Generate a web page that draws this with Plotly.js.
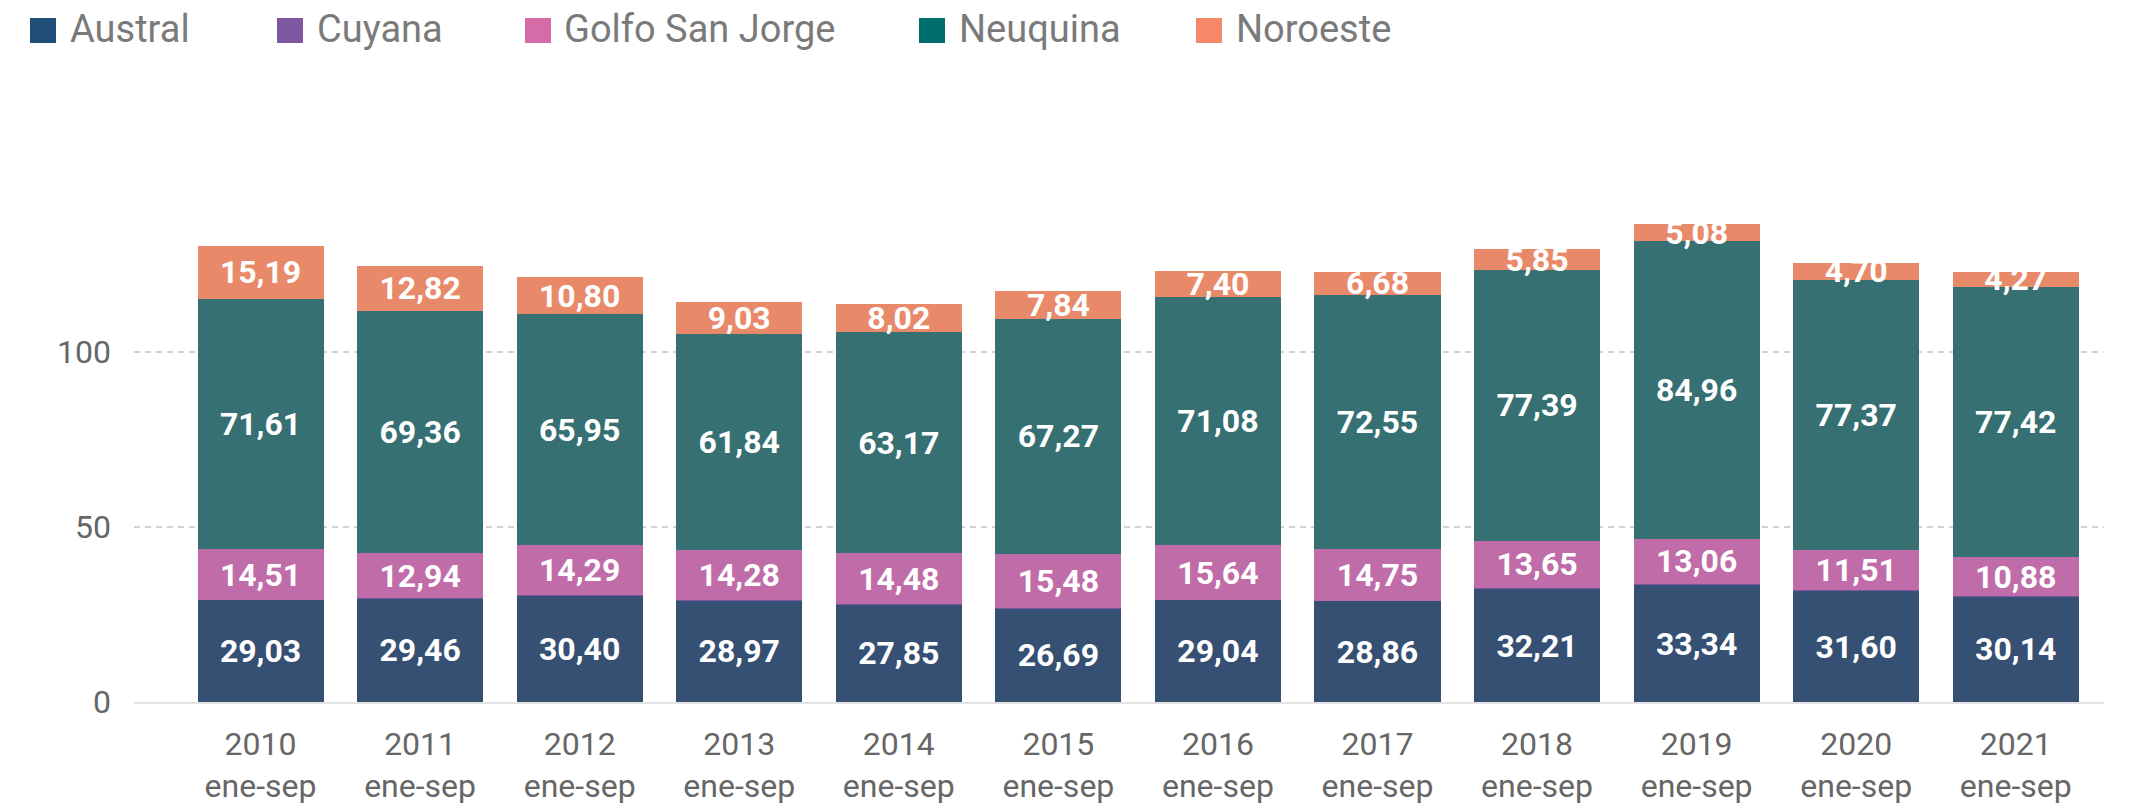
<!DOCTYPE html>
<html>
<head>
<meta charset="utf-8">
<script src="https://cdn.plot.ly/plotly-3.0.1.min.js"></script>
<style>
  html, body { margin: 0; padding: 0; background: #ffffff; }
  #chart { width: 2132px; height: 808px; }
</style>
</head>
<body>
<div id="chart"></div>
<script>
// ---- Data ----
const years = ["2010", "2011", "2012", "2013", "2014", "2015", "2016", "2017", "2018", "2019", "2020", "2021"];
const period = "ene-sep";
const seriesNames = ["Austral", "Cuyana", "Golfo San Jorge", "Neuquina", "Noroeste"];
const austral  = [29.03, 29.46, 30.40, 28.97, 27.85, 26.69, 29.04, 28.86, 32.21, 33.34, 31.60, 30.14];
const cuyana   = [0.15, 0.15, 0.15, 0.15, 0.15, 0.15, 0.15, 0.15, 0.3, 0.3, 0.3, 0.3];
const golfo    = [14.51, 12.94, 14.29, 14.28, 14.48, 15.48, 15.64, 14.75, 13.65, 13.06, 11.51, 10.88];
const neuquina = [71.61, 69.36, 65.95, 61.84, 63.17, 67.27, 71.08, 72.55, 77.39, 84.96, 77.37, 77.42];
const noroeste = [15.19, 12.82, 10.80, 9.03, 8.02, 7.84, 7.40, 6.68, 5.85, 5.08, 4.70, 4.27];
const yTicks = [0, 50, 100];

// ---- Style ----
const barColors = ["#355072", "#7e57a3", "#c06ca9", "#367073", "#e88a69"];
const legendColors = ["#1f4e79", "#7e57a3", "#d56ca8", "#006e6e", "#f6886a"];
const values = [austral, cuyana, golfo, neuquina, noroeste];
const showLabels = [true, false, true, true, true];

const W = 2132, H = 808;
const mL = 134, mR = 28, mT = 142, mB = 106;
const plotW = W - mL - mR, plotH = H - mT - mB;
const px2paperX = px => (px - mL) / plotW;
const px2paperY = py => (H - mB - py) / plotH;

const traces = seriesNames.map((name, i) => ({
  type: "bar",
  name: name,
  x: years,
  y: values[i],
  marker: { color: barColors[i], line: { width: 0 } },
  texttemplate: showLabels[i] ? "%{y:.2f}" : "",
  textposition: showLabels[i] ? "inside" : "none",
  insidetextanchor: "middle",
  constraintext: "none",
  textfont: { family: "Roboto, sans-serif", size: 32, color: "#ffffff", weight: 700 },
  hoverinfo: "name+y",
  showlegend: false
}));

// Legend drawn as layout shapes + annotations
const legendSquareX = [30, 277, 525, 919, 1196];
const legendTextX = [68, 315, 562, 957, 1234];
const shapes = [];
const annotations = [];
seriesNames.forEach((name, i) => {
  shapes.push({
    type: "rect", xref: "paper", yref: "paper",
    x0: px2paperX(legendSquareX[i]), x1: px2paperX(legendSquareX[i] + 26),
    y0: px2paperY(43), y1: px2paperY(18),
    fillcolor: legendColors[i], line: { width: 0 }
  });
  annotations.push({
    xref: "paper", yref: "paper",
    x: px2paperX(legendTextX[i]), y: px2paperY(29),
    xanchor: "left", yanchor: "middle",
    text: name, showarrow: false,
    font: { family: "Roboto, sans-serif", size: 38, color: "#7a7a7a" }
  });
});

const layout = {
  width: W, height: H,
  margin: { l: mL, r: mR, t: mT, b: mB, pad: 0 },
  paper_bgcolor: "#ffffff",
  plot_bgcolor: "#ffffff",
  barmode: "stack",
  bargap: 0.21,
  separators: ",.",
  showlegend: false,
  font: { family: "Roboto, sans-serif", color: "#666666" },
  xaxis: {
    type: "category",
    range: [-0.793, 11.553],
    tickvals: years,
    ticktext: years.map(y => y + "<br>" + period),
    tickfont: { family: "Roboto, sans-serif", size: 32, color: "#666666" },
    showgrid: false,
    zeroline: false,
    showline: true,
    linecolor: "#e3e3e3",
    linewidth: 2,
    ticks: "",
    ticklabelstandoff: 13
  },
  yaxis: {
    range: [0, 160.1],
    tickvals: yTicks,
    ticktext: yTicks.map(String),
    tickfont: { family: "Roboto, sans-serif", size: 32, color: "#666666" },
    showgrid: true,
    gridcolor: "#d3d3d3",
    gridwidth: 2,
    griddash: "6px,5px",
    zeroline: false,
    showline: false,
    ticks: "",
    ticklabelstandoff: 22
  },
  shapes: shapes,
  annotations: annotations
};

Plotly.newPlot("chart", traces, layout, { displayModeBar: false, staticPlot: true });
</script>
</body>
</html>
